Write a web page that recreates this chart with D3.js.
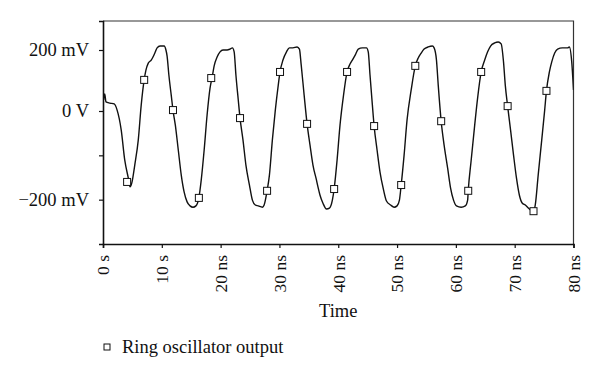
<!DOCTYPE html>
<html>
<head>
<meta charset="utf-8">
<script src="https://cdn.jsdelivr.net/npm/d3@7"></script>
<style>
body { margin: 0; background: #fff; }
svg { display: block; font-family: "Liberation Serif", "DejaVu Serif", serif; }
</style>
</head>
<body>
<svg width="600" height="378"></svg>
<script>
//waveform samples, time in ns
const timeNs = [0.1, 0.3, 0.5, 1.2, 1.9, 2.4, 3.1, 3.7, 4.3, 4.6, 4.9, 5.4, 6.0, 6.5, 7.0, 7.3, 7.7, 8.2, 8.5, 8.9,
    9.2, 9.7, 10.4, 10.7, 10.9, 11.2, 11.6, 11.9, 12.3, 12.8, 13.3, 13.8, 14.3, 14.8, 15.3, 15.8, 16.3, 16.7, 17.2, 17.7,
    18.2, 18.6, 18.9, 19.4, 19.9, 20.4, 21.1, 21.6, 22.0, 22.3, 22.6, 23.0, 23.3, 23.8, 24.3, 24.9, 25.4, 25.9, 26.4, 27.1,
    27.4, 27.9, 28.3, 28.8, 29.3, 29.8, 30.1, 30.6, 31.2, 31.7, 32.3, 33.0, 33.4, 33.7, 34.2, 34.7, 35.2, 35.7, 36.3, 36.6,
    36.9, 37.4, 38.0, 38.5, 39.0, 39.3, 39.8, 40.3, 40.9, 41.5, 42.0, 42.4, 42.9, 43.4, 44.1, 44.8, 45.1, 45.4, 45.8, 46.1,
    46.6, 47.1, 47.7, 48.2, 48.9, 49.5, 50.0, 50.4, 50.7, 51.2, 51.7, 52.4, 53.1, 53.6, 54.1, 54.6, 55.3, 56.0, 56.3, 56.7,
    57.0, 57.5, 58.0, 58.6, 59.1, 59.6, 60.1, 60.9, 61.6, 62.0, 62.1, 62.6, 63.2, 63.7, 64.3, 64.9, 65.4, 65.9, 66.6, 67.2,
    67.7, 68.1, 68.4, 68.8, 69.3, 69.8, 70.3, 70.8, 71.3, 71.8, 72.5, 73.2, 73.5, 74.0, 74.6, 75.1, 75.4, 75.9, 76.3, 76.8,
    77.3, 78.1, 79.0, 79.3, 79.7, 80.0];

//waveform samples, voltage in mV
const voltMv = [36, 56, 30, 26, 23, 3, -43, -111, -151, -171, -162, -122, -65, 20, 102, 134, 157, 167, 177, 194,
    207, 213, 213, 200, 180, 118, 52, 3, -32, -88, -144, -183, -205, -214, -217, -214, -196, -156, -88, -9,
    75, 115, 148, 177, 194, 200, 200, 203, 207, 194, 118, 36, -16, -65, -122, -167, -201, -212, -214, -217,
    -212, -180, -144, -65, 3, 85, 128, 167, 194, 207, 207, 210, 203, 151, 52, -29, -77, -122, -156, -174,
    -190, -208, -221, -219, -201, -176, -111, -32, 52, 128, 154, 167, 184, 203, 207, 207, 194, 118, 20, -34,
    -88, -138, -178, -203, -212, -217, -214, -201, -167, -99, -20, 69, 148, 174, 190, 203, 210, 213, 207, 167,
    85, -23, -77, -129, -174, -201, -214, -217, -214, -201, -180, -111, -32, 43, 128, 167, 194, 213, 223, 226,
    220, 161, 85, 16, -43, -99, -151, -190, -208, -212, -221, -226, -212, -144, -65, 3, 66, 128, 161, 190,
    203, 207, 207, 210, 161, 69];

//square markers on the trace
const markerTime = [4.1, 7.0, 11.9, 16.3, 18.4, 23.3, 27.9, 30.1, 34.7, 39.3, 41.5, 46.1, 50.7, 53.1, 57.5, 62.1, 64.3, 68.8, 73.2, 75.4];
const markerVolt = [-160, 102, 3, -196, 108, -16, -180, 128, -29, -176, 128, -34, -167, 148, -23, -180, 128, 16, -226, 66];

//axis ticks
const xTicks = [0, 10, 20, 30, 40, 50, 60, 70, 80];
const xTickLabels = ["0 s", "10 s", "20 ns", "30 ns", "40 ns", "50 ns", "60 ns", "70 ns", "80 ns"];
const yTicks = [200, 0, -100, -200];
const yTickLabels = { "200": "200 mV", "0": "0 V", "-200": "\u2212200 mV" };

const plotLeft = 103, plotRight = 573.5, plotTop = 21, plotBottom = 244;

const svg = d3.select("svg");

const x = d3.scaleLinear().domain([0, 80]).range([plotLeft, plotRight]);
//the original axis is not evenly spaced above and below 0 V
const y = d3.scaleLinear().domain([-300, 0, 200, 295]).range([plotBottom, 111, 50, plotTop]);

//frame (top and right)
svg.append("path")
    .attr("d", `M${plotLeft},${plotTop}H${plotRight}V${plotBottom}`)
    .attr("fill", "none")
    .attr("stroke", "#333")
    .attr("stroke-width", 1.2);

//clip for the trace
svg.append("clipPath").attr("id", "plot")
    .append("rect")
    .attr("x", plotLeft).attr("y", plotTop)
    .attr("width", plotRight - plotLeft).attr("height", plotBottom - plotTop);

const data = timeNs.map((t, i) => ({ t, v: voltMv[i] }));

const line = d3.line()
    .x(d => x(d.t))
    .y(d => y(d.v))
    .curve(d3.curveMonotoneX);

svg.append("path")
    .datum(data)
    .attr("clip-path", "url(#plot)")
    .attr("d", line)
    .attr("fill", "none")
    .attr("stroke", "#111")
    .attr("stroke-width", 1.4);

//markers
svg.append("g")
    .selectAll("rect")
    .data(markerTime.map((t, i) => ({ t, v: markerVolt[i] })))
    .enter()
    .append("rect")
    .attr("x", d => x(d.t) - 3.5)
    .attr("y", d => y(d.v) - 3.5)
    .attr("width", 7)
    .attr("height", 7)
    .attr("fill", "#fff")
    .attr("stroke", "#111")
    .attr("stroke-width", 1);

//x axis
const xAxis = svg.append("g")
    .attr("transform", `translate(0,${plotBottom})`)
    .call(d3.axisBottom(x).tickValues(xTicks).tickSize(4).tickFormat((d, i) => xTickLabels[i]));
xAxis.select(".domain").attr("stroke", "#111").attr("stroke-width", 1.6);
xAxis.selectAll(".tick line").attr("stroke", "#111").attr("stroke-width", 1.2);
xAxis.selectAll("text")
    .attr("transform", "rotate(-90)")
    .attr("x", -11)
    .attr("y", 0)
    .attr("dy", "0.33em")
    .attr("text-anchor", "end")
    .attr("font-family", "Liberation Serif")
    .attr("font-size", "17.5px")
    .attr("fill", "#111");

//y axis
const yAxis = svg.append("g")
    .attr("transform", `translate(${plotLeft},0)`)
    .call(d3.axisLeft(y).tickValues(yTicks).tickSize(4).tickPadding(10)
        .tickFormat(d => yTickLabels[d] || ""));
yAxis.select(".domain").attr("stroke", "#111").attr("stroke-width", 1.6);
yAxis.selectAll(".tick line").attr("stroke", "#111").attr("stroke-width", 1.2);
yAxis.selectAll("text")
    .attr("font-family", "Liberation Serif")
    .attr("font-size", "18.5px")
    .attr("fill", "#111");

//axis title
svg.append("text")
    .attr("x", (plotLeft + plotRight) / 2)
    .attr("y", 317)
    .attr("text-anchor", "middle")
    .attr("font-size", "18.5px")
    .attr("fill", "#111")
    .text("Time");

//legend
svg.append("rect")
    .attr("x", 104)
    .attr("y", 344)
    .attr("width", 6)
    .attr("height", 6)
    .attr("fill", "#fff")
    .attr("stroke", "#111")
    .attr("stroke-width", 1);
svg.append("text")
    .attr("x", 122)
    .attr("y", 353)
    .attr("font-size", "18.5px")
    .attr("fill", "#111")
    .text("Ring oscillator output");
</script>
</body>
</html>
